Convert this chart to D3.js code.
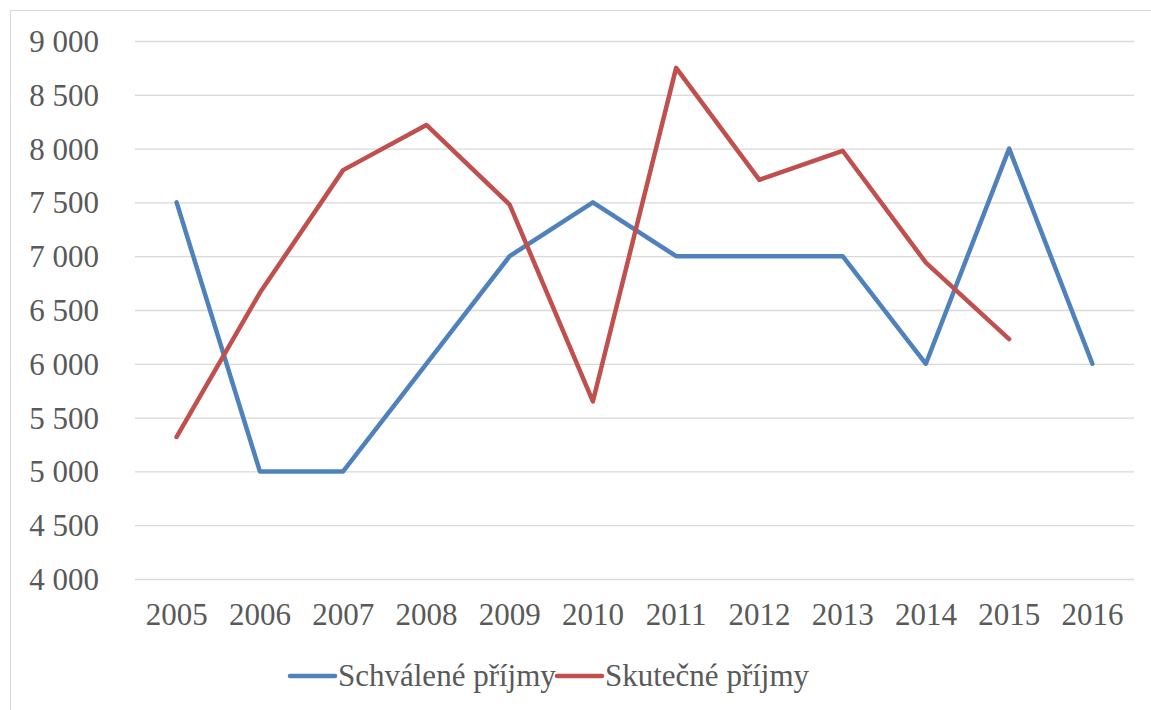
<!DOCTYPE html>
<html><head><meta charset="utf-8">
<script src="https://cdnjs.cloudflare.com/ajax/libs/d3/7.8.5/d3.min.js"></script>
<style>body{margin:0;background:#fff}svg{display:block}
svg text{font-family:"Liberation Serif","Times New Roman",Tinos,"DejaVu Serif",serif !important;}</style>
</head><body>
<svg id="c" width="1151" height="710"></svg>
<script>
const years = ["2005","2006","2007","2008","2009","2010","2011","2012","2013","2014","2015","2016"];
const schvalene = [7500,5000,5000,6000,7000,7500,7000,7000,7000,6000,8000,6000];
const skutecne = [5320,6660,7800,8220,7480,5650,8750,7710,7980,6940,6230,null];
const yTicks = [4000,4500,5000,5500,6000,6500,7000,7500,8000,8500,9000];
const seriesNames = ["Schválené příjmy","Skutečné příjmy"];
const colors = ["#4F81BD","#C0504D"];

const svg = d3.select("#c");
const textColor = "#595959";

svg.append("rect").attr("x",10.5).attr("y",10.5).attr("width",1160).attr("height",720)
  .attr("fill","none").attr("stroke","#D9D9D9").attr("stroke-width",1);

const x = d3.scaleBand().domain(years).range([135,1134]);
const y = d3.scaleLinear().domain([4000,9000]).range([579,41]);

const fmt = v => d3.format(",")(v).replace(",", " ");

const gy = svg.append("g").attr("transform","translate(135,0)")
  .call(d3.axisLeft(y).tickValues(yTicks).tickSize(-999).tickPadding(0).tickFormat(fmt));
gy.select(".domain").remove();
gy.selectAll(".tick line").attr("stroke","#D9D9D9").attr("stroke-width",1.3);
gy.selectAll(".tick text").attr("x",-36).attr("dy","0.34em")
  .attr("font-size",31).attr("fill",textColor);

const gx = svg.append("g").attr("transform","translate(0,579)")
  .call(d3.axisBottom(x).tickSize(0).tickPadding(0));
gx.select(".domain").remove();
gx.selectAll(".tick text").attr("y",46).attr("dy",0)
  .attr("font-size",31).attr("fill",textColor);

const cx = d => x(d) + x.bandwidth()/2;
[schvalene, skutecne].forEach((vals,i) => {
  const line = d3.line().defined(d => d.v != null).x(d => cx(d.yr)).y(d => y(d.v));
  svg.append("path").datum(years.map((yr,j)=>({yr, v: vals[j]})))
    .attr("d", line).attr("fill","none").attr("stroke",colors[i])
    .attr("stroke-width",4.5).attr("stroke-linejoin","round").attr("stroke-linecap","round");
});

const legX = [290, 557];
seriesNames.forEach((n,i) => {
  const g = svg.append("g");
  g.append("line").attr("x1",legX[i]).attr("x2",legX[i]+45).attr("y1",676).attr("y2",676)
    .attr("stroke",colors[i]).attr("stroke-width",4.5).attr("stroke-linecap","round");
  g.append("text").attr("x",legX[i]+48).attr("y",686).text(n)
    .attr("font-size",31).attr("fill",textColor);
});
</script>
</body></html>
